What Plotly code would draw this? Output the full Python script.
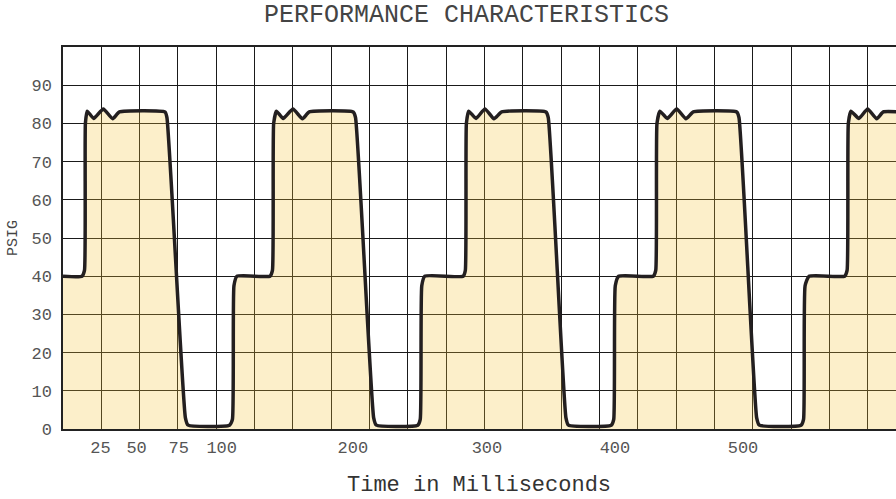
import plotly.graph_objects as go

# Pressure trace (PSIG) against time (ms)
time_ms = [
    0.0, 12.4, 14.0, 14.6, 15.8, 20.0, 26.3, 32.4, 36.8, 66.5, 67.8, 79.8, 81.6,
    108.6, 110.5, 111.5, 113.5,
    135.0, 136.6, 137.4, 139.2, 143.6, 150.0, 156.2, 160.6, 189.3, 190.8, 202.6, 204.4,
    231.4, 233.0, 234.0, 236.0,
    261.0, 262.4, 263.1, 264.6, 269.4, 275.2, 281.1, 286.1, 315.0, 316.5, 328.0, 329.7,
    357.6, 359.2, 360.2, 362.4,
    385.0, 386.6, 387.4, 389.3, 394.1, 400.3, 406.3, 411.1, 439.4, 440.9, 452.4, 454.2,
    481.4, 483.0, 484.0, 486.6,
    509.8, 511.4, 512.2, 513.9, 519.1, 524.8, 530.7, 535.0, 545.0,
]
psig = [
    40.0, 40.0, 41.5, 80.0, 83.2, 81.3, 83.8, 81.2, 83.0, 83.0, 81.5, 3.0, 1.0,
    1.0, 2.5, 37.5, 40.0,
    40.0, 41.5, 80.0, 83.2, 81.3, 83.8, 81.2, 83.0, 83.0, 81.5, 3.0, 1.0,
    1.0, 2.5, 37.5, 40.0,
    40.0, 41.5, 80.0, 83.2, 81.3, 83.8, 81.2, 83.0, 83.0, 81.5, 3.0, 1.0,
    1.0, 2.5, 37.5, 40.0,
    40.0, 41.5, 80.0, 83.2, 81.3, 83.8, 81.2, 83.0, 83.0, 81.5, 3.0, 1.0,
    1.0, 2.5, 37.5, 40.0,
    40.0, 41.5, 80.0, 83.2, 81.3, 83.8, 81.2, 83.0, 83.0,
]

# Axis labelling
x_tick_pos = [24.5, 48.0, 75.5, 103.5, 189.0, 276.5, 360.0, 443.5]
x_tick_text = ["25", "50", "75", "100", "200", "300", "400", "500"]
y_tick_vals = [0, 10, 20, 30, 40, 50, 60, 70, 80, 90]

MONO = "Courier New, Liberation Mono, monospace"
INK = "#231f20"

fig = go.Figure()
fig.add_trace(go.Scatter(
    x=time_ms, y=psig,
    mode="lines",
    line=dict(color=INK, width=3.5, shape="spline", smoothing=0.45),
    fill="tozeroy",
    fillcolor="rgba(244,196,60,0.27)",
    hoverinfo="x+y",
    showlegend=False,
))

fig.update_layout(
    width=896, height=499,
    margin=dict(l=63, r=0, t=46.5, b=69.5),
    paper_bgcolor="white",
    plot_bgcolor="white",
    font=dict(family=MONO, color="#555555"),
    showlegend=False,
    annotations=[
        dict(text="PERFORMANCE CHARACTERISTICS", xref="paper", yref="paper",
             x=0.484, y=1.082, xanchor="center", yanchor="middle", showarrow=False,
             font=dict(family=MONO, size=25, color="#444444")),
        dict(text="Time in Milliseconds", xref="paper", yref="paper",
             x=0.4994, y=-0.1475, xanchor="center", yanchor="middle", showarrow=False,
             font=dict(family=MONO, size=22, color="#333333")),
        dict(text="PSIG", xref="paper", yref="paper",
             x=-0.06, y=0.5, xanchor="center", yanchor="middle", showarrow=False,
             textangle=-90,
             font=dict(family=MONO, size=15, color="#444444")),
    ],
)

fig.update_xaxes(
    range=[0, 543.3],
    tickmode="array", tickvals=x_tick_pos, ticktext=x_tick_text,
    ticks="", showgrid=False, zeroline=False,
    showline=True, linecolor="#222222", linewidth=1.5, mirror=True,
    tickfont=dict(family=MONO, size=17, color="#555555"),
    ticklabelstandoff=2,
    minor=dict(tick0=0, dtick=25, showgrid=True, gridcolor="#1a1a1a", gridwidth=1),
)
fig.update_yaxes(
    range=[0, 100],
    tickmode="array", tickvals=y_tick_vals,
    ticks="", showgrid=True, gridcolor="#1a1a1a", gridwidth=1, zeroline=False,
    showline=True, linecolor="#222222", linewidth=1.5, mirror=False,
    tickfont=dict(family=MONO, size=17, color="#555555"),
    ticklabelstandoff=6,
)

fig.write_html("out.html")
